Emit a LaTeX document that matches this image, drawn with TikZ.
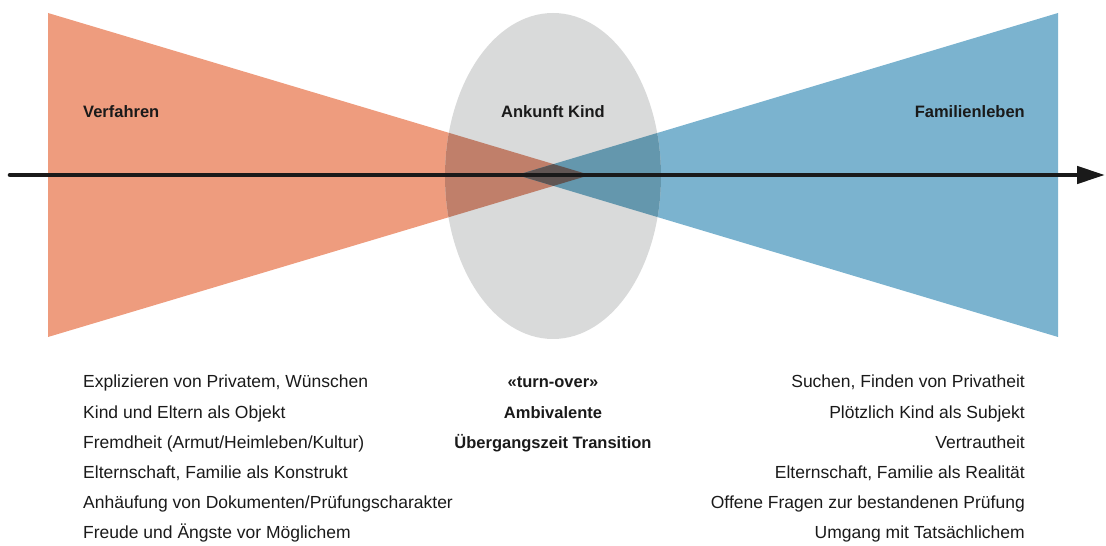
\documentclass[tikz,border=0pt]{standalone}
\usepackage{fontspec}
\setmainfont{Liberation Sans}
\usetikzlibrary{arrows.meta,positioning}
\definecolor{verfred}{RGB}{238,156,126}
\definecolor{famblue}{RGB}{123,179,207}
\definecolor{kindgray}{RGB}{217,218,218}
\definecolor{verfgray}{RGB}{192,127,106}
\definecolor{famgray}{RGB}{100,151,173}
\definecolor{bothgray}{RGB}{96,85,83}
\definecolor{ink}{RGB}{26,26,26}

\begin{document}
\begin{tikzpicture}[x=1pt, y=1pt, >=Triangle,
  head/.style={font=\fontsize{16.5}{20}\selectfont\bfseries, text=ink, inner sep=0pt},
  item/.style={font=\fontsize{17.5}{20}\selectfont, text=ink, inner sep=0pt},
  mid/.style={item, font=\fontsize{16.5}{20}\selectfont\bfseries},
  axis/.style={line width=4.6pt, draw=ink, line cap=round, -{Triangle[length=28pt, width=17pt]}}]
\useasboundingbox (0,0) rectangle (1106,546);
% ---------------- shapes
\coordinate (vtop) at (48,533); \coordinate (vbot) at (48,209); \coordinate (vtip) at (590,371);
\coordinate (ftop) at (1058,533); \coordinate (fbot) at (1058,209); \coordinate (ftip) at (517,371);
\coordinate (kc) at (553,370);
\fill[verfred] (vtop) -- (vbot) -- (vtip) -- cycle;
\fill[famblue] (ftop) -- (fbot) -- (ftip) -- cycle;
\fill[kindgray] (kc) ellipse [x radius=108, y radius=163];
\begin{scope}
  \clip (kc) ellipse [x radius=108, y radius=163];
  \fill[verfgray] (vtop) -- (vbot) -- (vtip) -- cycle;
  \fill[famgray] (ftop) -- (fbot) -- (ftip) -- cycle;
  \clip (vtop) -- (vbot) -- (vtip) -- cycle;
  \fill[bothgray] (ftop) -- (fbot) -- (ftip) -- cycle;
\end{scope}
% ---------------- time axis
\coordinate (axL) at (10,371);
\coordinate (axR) at (1105,371);
\draw[axis] (axL) -- (axR);
% ---------------- headings
\node[head, anchor=base west] (verf) at (83,428) {Verfahren};
\node[head, anchor=base] (kind) at (553,428) {Ankunft Kind};
\node[head, anchor=base east] (fam) at (1025,428) {Familienleben};
% ---------------- lists
\foreach \txt [count=\i] in {{Explizieren von Privatem, Wünschen}, Kind und Eltern als Objekt,
    Fremdheit (Armut/Heimleben/Kultur), {Elternschaft, Familie als Konstrukt},
    Anhäufung von Dokumenten/Prüfungscharakter, Freude und Ängste vor Möglichem}
  \node[item, anchor=base west] (left\i) at (83,{158-30.2*(\i-1)}) {\txt};
\foreach \txt [count=\i] in {«turn-over», Ambivalente, Übergangszeit Transition}
  \node[mid, anchor=base] (mid\i) at (553,{158-30.2*(\i-1)}) {\txt};
\foreach \txt [count=\i] in {{Suchen, Finden von Privatheit}, Plötzlich Kind als Subjekt,
    Vertrautheit, {Elternschaft, Familie als Realität},
    Offene Fragen zur bestandenen Prüfung, Umgang mit Tatsächlichem}
  \node[item, anchor=base east] (right\i) at (1025,{158-30.2*(\i-1)}) {\txt};
\end{tikzpicture}
\end{document}
